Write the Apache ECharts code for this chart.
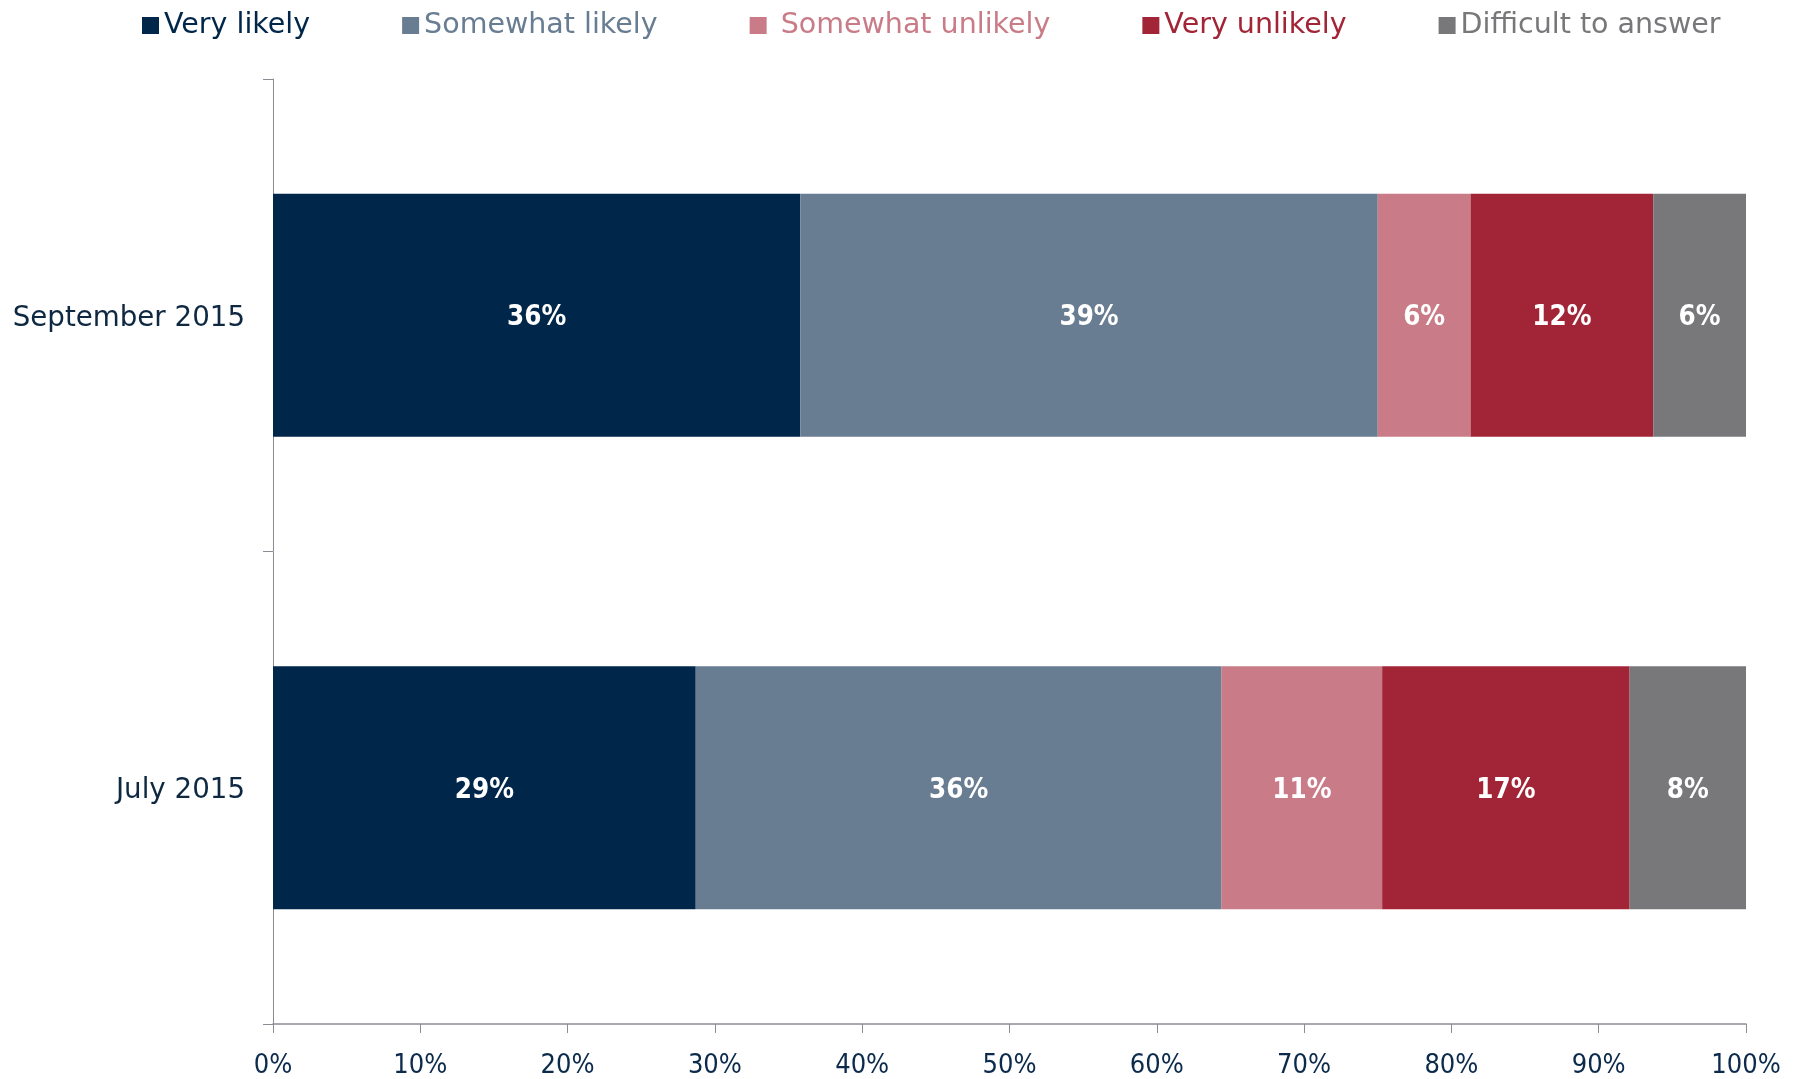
<!DOCTYPE html>
<html>
<head>
<meta charset="utf-8">
<script src="https://cdn.jsdelivr.net/npm/echarts@6/dist/echarts.min.js"></script>
<style>
html,body{margin:0;padding:0;background:#fff;}
#chart{width:1801px;height:1079px;}
</style>
</head>
<body>
<div id="chart"></div>
<script>
const categories = ['July 2015', 'September 2015'];
const seriesNames = ['Very likely', 'Somewhat likely', 'Somewhat unlikely', 'Very unlikely', 'Difficult to answer'];
const veryLikely = [28.7, 35.8];
const somewhatLikely = [35.7, 39.2];
const somewhatUnlikely = [10.9, 6.3];
const veryUnlikely = [16.8, 12.4];
const difficult = [7.9, 6.3];
const xTicks = ['0%', '10%', '20%', '30%', '40%', '50%', '60%', '70%', '80%', '90%', '100%'];
const colors = ['#00264A', '#687D92', '#C97C87', '#A22537', '#78787B'];

const values = [veryLikely, somewhatLikely, somewhatUnlikely, veryUnlikely, difficult];
const chart = echarts.init(document.getElementById('chart'));

const series = seriesNames.map((name, i) => ({
  name: name,
  type: 'bar',
  stack: 'total',
  barCategoryGap: '48.6%',
  data: values[i],
  itemStyle: { color: colors[i] },
  label: {
    show: true,
    position: 'inside',
    offset: [0, 3],
    color: '#ffffff',
    fontFamily: 'DejaVu Sans Condensed',
    fontWeight: 'bold',
    fontSize: 27.5,
    formatter: p => Math.round(p.value) + '%'
  },
  emphasis: { disabled: true }
}));

chart.setOption({
  animation: false,
  color: colors,
  legend: {
    left: 137,
    top: 6,
    itemWidth: 17,
    itemHeight: 17,
    itemGap: 92,
    icon: 'rect',
    data: seriesNames.map((n, i) => ({ name: n, textStyle: { color: colors[i] } })),
    formatter: n => (n === 'Somewhat unlikely' ? ' ' + n : n),
    textStyle: { fontFamily: 'DejaVu Sans', fontSize: 28.5 }
  },
  grid: { left: 273, right: 55, top: 79, bottom: 55, containLabel: false },
  xAxis: {
    type: 'value',
    min: 0,
    max: 100,
    interval: 10,
    splitLine: { show: false },
    axisLine: { show: true, lineStyle: { color: '#8C8C94', width: 1.5 } },
    axisTick: { show: true, length: 9, lineStyle: { color: '#8C8C94' } },
    axisLabel: {
      margin: 28,
      fontFamily: 'DejaVu Sans Condensed',
      fontSize: 27,
      color: '#0C2A4B',
      formatter: v => xTicks[Math.round(v / 10)]
    }
  },
  yAxis: {
    type: 'category',
    data: categories,
    axisLine: { show: true, lineStyle: { color: '#8C8C94' } },
    axisTick: { show: true, length: 10, lineStyle: { color: '#8C8C94' } },
    axisLabel: {
      margin: 28,
      fontFamily: 'DejaVu Sans',
      fontSize: 27.7,
      color: '#0E2841',
      formatter: v => '{c|' + v + '}',
      rich: { c: { fontFamily: 'DejaVu Sans', fontSize: 27.7, color: '#0E2841', padding: [7, 0, 0, 0] } }
    }
  },
  series: series
});
</script>
</body>
</html>
